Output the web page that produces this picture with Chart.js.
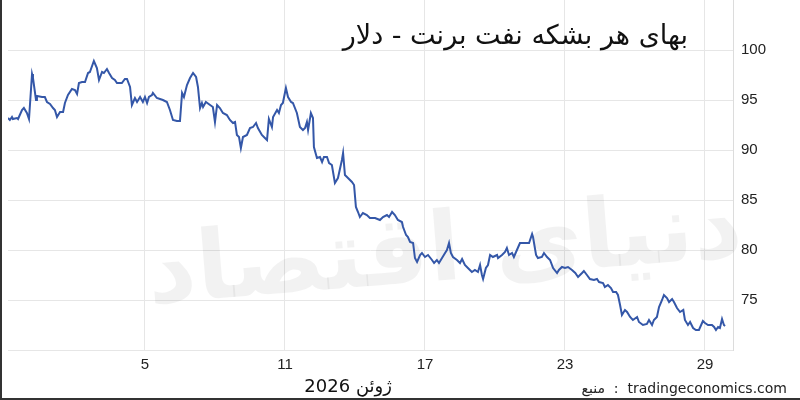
<!DOCTYPE html>
<html>
<head>
<meta charset="utf-8">
<script src="https://cdn.jsdelivr.net/npm/chart.js@4/dist/chart.umd.min.js"></script>
<style>
  html, body { margin: 0; padding: 0; background: #fff; }
  #wrap { width: 800px; height: 400px; position: relative; }
</style>
</head>
<body>
<div id="wrap"><canvas id="brentChart" width="800" height="400"></canvas></div>
<script>
// day of June 2026 (fractional) and price in dollars
const days = [
  -0.87, -0.79, -0.70, -0.66, -0.49, -0.44, -0.27, -0.19, -0.06, 0.03,
  0.16, 0.20, 0.33, 0.37, 0.59, 0.71, 0.80, 0.93, 1.06, 1.14,
  1.23, 1.36, 1.49, 1.57, 1.70, 1.87, 2.00, 2.09, 2.17, 2.30,
  2.43, 2.56, 2.64, 2.81, 2.94, 3.03, 3.16, 3.24, 3.37, 3.46,
  3.59, 3.71, 3.80, 4.01, 4.14, 4.23, 4.36, 4.44, 4.57, 4.66,
  4.79, 4.91, 5.00, 5.09, 5.17, 5.30, 5.34, 5.51, 5.77, 5.94,
  6.07, 6.20, 6.37, 6.50, 6.59, 6.67, 6.80, 6.93, 7.06, 7.19,
  7.27, 7.36, 7.44, 7.49, 7.61, 7.79, 7.91, 8.00, 8.09, 8.21,
  8.34, 8.51, 8.64, 8.77, 8.86, 8.94, 9.03, 9.11, 9.20, 9.37,
  9.50, 9.63, 9.76, 9.84, 10.01, 10.14, 10.23, 10.31, 10.44, 10.49,
  10.66, 10.74, 10.83, 10.91, 11.04, 11.13, 11.26, 11.34, 11.51, 11.64,
  11.77, 11.86, 11.94, 11.99, 12.11, 12.20, 12.24, 12.37, 12.50, 12.59,
  12.67, 12.80, 12.89, 13.01, 13.14, 13.27, 13.44, 13.49, 13.57, 13.70,
  13.87, 13.96, 14.04, 14.13, 14.21, 14.34, 14.51, 14.64, 14.86, 15.07,
  15.20, 15.37, 15.46, 15.59, 15.71, 15.84, 16.01, 16.06, 16.19, 16.27,
  16.36, 16.49, 16.57, 16.66, 16.79, 16.87, 17.00, 17.13, 17.30, 17.39,
  17.51, 17.60, 17.73, 17.86, 17.94, 18.03, 18.11, 18.20, 18.37, 18.50,
  18.59, 18.71, 18.84, 19.01, 19.14, 19.27, 19.36, 19.44, 19.49, 19.61,
  19.70, 19.79, 19.91, 20.09, 20.13, 20.30, 20.43, 20.51, 20.60, 20.73,
  20.81, 20.94, 21.07, 21.29, 21.46, 21.59, 21.63, 21.76, 21.84, 22.01,
  22.10, 22.23, 22.36, 22.49, 22.66, 22.74, 22.87, 23.00, 23.13, 23.30,
  23.44, 23.56, 23.73, 23.81, 23.94, 24.07, 24.24, 24.37, 24.46, 24.63,
  24.71, 24.84, 24.97, 25.06, 25.19, 25.27, 25.36, 25.44, 25.57, 25.66,
  25.79, 25.91, 26.09, 26.17, 26.34, 26.51, 26.60, 26.73, 26.81, 26.94,
  27.03, 27.16, 27.24, 27.37, 27.46, 27.59, 27.67, 27.80, 27.93, 28.07,
  28.14, 28.27, 28.36, 28.49, 28.61, 28.74, 28.91, 29.00, 29.13, 29.30,
  29.39, 29.47, 29.56, 29.64, 29.73, 29.81, 29.86
];
const prices = [
  93.2, 93.0, 93.3, 93.1, 93.2, 93.1, 94.0, 94.2, 93.7, 93.1,
  97.6, 97.2, 95.0, 95.4, 95.3, 95.3, 94.8, 94.6, 94.2, 94.0,
  93.3, 93.8, 93.8, 94.7, 95.5, 96.1, 96.0, 95.6, 96.7, 96.8,
  96.8, 97.7, 97.8, 98.9, 98.2, 97.0, 97.8, 97.7, 98.1, 97.7,
  97.2, 97.0, 96.7, 96.7, 97.1, 97.1, 96.3, 94.5, 95.2, 94.8,
  95.3, 94.8, 95.3, 94.7, 95.3, 95.5, 95.7, 95.2, 95.0, 94.8,
  94.0, 93.0, 92.9, 92.9, 95.7, 95.3, 96.5, 97.2, 97.7, 97.3,
  96.3, 94.2, 94.7, 94.3, 94.8, 94.5, 94.3, 92.8, 94.5, 94.2,
  93.7, 93.5, 93.0, 92.7, 92.8, 91.5, 91.3, 90.2, 91.3, 91.5,
  92.2, 92.3, 92.7, 92.2, 91.5, 91.2, 91.0, 93.1, 92.3, 93.3,
  94.0, 93.7, 94.5, 94.7, 96.2, 95.3, 94.8, 94.7, 93.7, 92.3,
  92.0, 92.2, 92.8, 92.0, 93.7, 93.2, 90.3, 89.2, 89.3, 88.8,
  89.3, 89.3, 88.7, 88.5, 86.7, 87.2, 89.0, 89.7, 87.5, 87.2,
  86.8, 86.5, 84.3, 83.8, 83.3, 83.7, 83.5, 83.2, 83.2, 83.0,
  83.3, 83.5, 83.3, 83.8, 83.5, 83.0, 82.8, 82.3, 81.5, 81.3,
  80.8, 80.7, 79.2, 78.8, 79.5, 79.7, 79.3, 79.5, 79.0, 78.7,
  79.0, 78.7, 79.2, 79.7, 80.0, 80.7, 79.7, 79.3, 79.0, 78.7,
  79.1, 78.5, 78.2, 77.8, 78.0, 77.8, 78.5, 77.5, 77.1, 78.2,
  78.5, 79.5, 79.3, 79.5, 79.2, 79.5, 79.8, 80.2, 79.5, 79.7,
  79.3, 80.0, 80.7, 80.7, 80.7, 81.6, 81.3, 79.5, 79.2, 79.3,
  79.7, 79.3, 79.0, 78.2, 77.7, 78.0, 78.3, 78.2, 78.3, 78.0,
  77.7, 77.3, 77.7, 77.9, 77.5, 77.1, 77.0, 77.1, 76.8, 76.7,
  76.3, 76.5, 76.2, 75.8, 75.8, 75.5, 74.5, 73.5, 74.0, 73.8,
  73.3, 73.0, 73.3, 72.8, 72.5, 72.6, 73.0, 72.5, 73.0, 73.3,
  74.3, 75.0, 75.5, 75.2, 74.8, 75.1, 74.8, 74.2, 73.8, 74.0,
  73.0, 72.5, 72.8, 72.2, 72.0, 72.0, 72.9, 72.7, 72.5, 72.5,
  72.3, 72.0, 72.3, 72.2, 73.1, 72.5, 72.4
];
const tickDays = [5, 11, 17, 23, 29];
const priceTicks = [75, 80, 85, 90, 95, 100];
const titleText = "بهای هر بشکه نفت برنت - دلار";
const monthText = "ژوئن 2026";
const sourceText = "منبع  :  tradingeconomics.com";
const watermarkText = "دنیای اقتصاد";

const gridColor = "#e6e6e6";

const decorations = {
  id: "decorations",
  beforeDatasetsDraw(chart) {
    const ctx = chart.ctx;
    ctx.save();
    ctx.translate(445, 255);
    ctx.rotate(-0.08);
    ctx.font = "bold 96px 'DejaVu Sans'";
    ctx.fillStyle = "rgba(0,0,0,0.05)";
    ctx.textAlign = "center";
    ctx.textBaseline = "middle";
    ctx.fillText(watermarkText, 0, 0);
    ctx.restore();
  },
  afterDraw(chart) {
    const ctx = chart.ctx;
    ctx.save();
    ctx.fillStyle = "#111";
    ctx.textBaseline = "alphabetic";
    ctx.textAlign = "right";
    ctx.font = "27px 'DejaVu Sans'";
    ctx.fillText(titleText, 688, 44);
    ctx.font = "18px 'DejaVu Sans'";
    ctx.fillText(monthText, 392, 392);
    ctx.font = "14px 'DejaVu Sans'";
    ctx.fillStyle = "#222";
    ctx.fillText(sourceText, 787, 393);
    // frame edges
    ctx.fillStyle = "#333";
    ctx.fillRect(0, 0, 2, 400);
    ctx.fillRect(0, 398, 800, 2);
    ctx.restore();
  }
};

new Chart(document.getElementById("brentChart"), {
  type: "line",
  data: {
    datasets: [{
      data: days.map((d, i) => ({ x: d, y: prices[i] })),
      borderColor: "#3457a8",
      borderWidth: 2,
      pointRadius: 0,
      tension: 0
    }]
  },
  options: {
    responsive: false,
    animation: false,
    layout: { padding: { left: 8, top: 0, right: 0, bottom: 0 } },
    plugins: { legend: { display: false }, tooltip: { enabled: false } },
    scales: {
      x: {
        type: "linear",
        min: -0.87,
        max: 30.2,
        afterBuildTicks: s => { s.ticks = tickDays.map(v => ({ value: v })); },
        afterFit: s => { s.height = 50; s.paddingLeft = 0; s.paddingRight = 0; },
        grid: { color: gridColor, drawTicks: false },
        border: { display: true, color: gridColor },
        ticks: {
          padding: 6,
          color: "#222",
          font: { family: "'Liberation Sans', Arial", size: 15 },
          maxRotation: 0,
          callback: v => String(v)
        }
      },
      y: {
        position: "right",
        min: 70,
        max: 105,
        afterBuildTicks: s => { s.ticks = [70].concat(priceTicks).map(v => ({ value: v })); },
        afterFit: s => { s.width = 67; s.paddingTop = 0; s.paddingBottom = 0; },
        grid: { color: gridColor, drawTicks: false },
        border: { display: true, color: "#dcdcdc" },
        ticks: {
          padding: 8,
          color: "#222",
          font: { family: "'Liberation Sans', Arial", size: 15 },
          callback: v => (priceTicks.includes(v) ? String(v) : "")
        }
      }
    }
  },
  plugins: [decorations]
});
</script>
</body>
</html>
